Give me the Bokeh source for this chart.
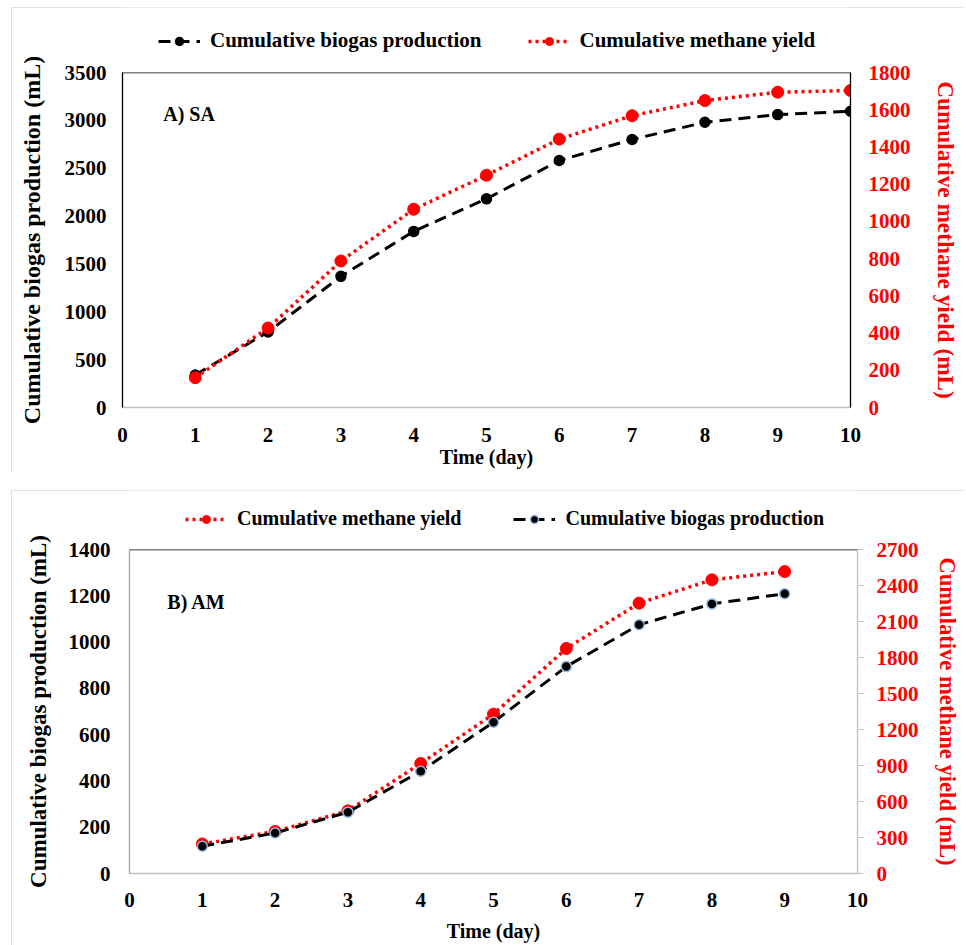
from bokeh.plotting import figure
from bokeh.models import Range1d, LinearAxis, Legend, LegendItem, Label, Span
from bokeh.layouts import column
from bokeh.embed import file_html
from bokeh.resources import INLINE

# ---- data -------------------------------------------------------------
days_sa = [1, 2, 3, 4, 5, 6, 7, 8, 9, 10]
biogas_sa = [340, 790, 1370, 1840, 2180, 2580, 2800, 2980, 3060, 3095]
methane_sa = [160, 427, 787, 1065, 1248, 1442, 1568, 1649, 1694, 1703]

days_am = [1, 2, 3, 4, 5, 6, 7, 8, 9]
biogas_am = [118, 175, 265, 442, 654, 894, 1075, 1165, 1209]
methane_am = [246, 350, 522, 917, 1328, 1875, 2253, 2447, 2516]

x_ticks = [0, 1, 2, 3, 4, 5, 6, 7, 8, 9, 10]
sa_left_ticks = [0, 500, 1000, 1500, 2000, 2500, 3000, 3500]
sa_right_ticks = [0, 200, 400, 600, 800, 1000, 1200, 1400, 1600, 1800]
am_left_ticks = [0, 200, 400, 600, 800, 1000, 1200, 1400]
am_right_ticks = [0, 300, 600, 900, 1200, 1500, 1800, 2100, 2400, 2700]

LBL_BIOGAS = "Cumulative biogas production"
LBL_METHANE = "Cumulative methane yield"
Y_LEFT_TITLE = "Cumulative biogas production (mL)"
Y_RIGHT_TITLE = "Cumulative methane yield (mL)"
X_TITLE = "Time (day)"

FONT = "Liberation Serif"
RED = "#ff0000"
WIDTH = 952
# thin light frame around each panel; an outline takes no layout space
PANEL_FRAME = {"outline": "1px solid #d6d6d6", "outline-offset": "-1px"}

BIOGAS_LINE = dict(line_color="black", line_width=3, line_dash="12 7")
METHANE_LINE = dict(line_color=RED, line_width=3.5, line_dash="3 4")


def style_axis(ax, color, line_color, ticks, standoff, title, title_size,
               title_standoff, tick_out=0):
    ax.ticker = ticks
    ax.major_label_text_font = FONT
    ax.major_label_text_font_style = "bold"
    ax.major_label_text_font_size = "21px"
    ax.major_label_text_color = color
    ax.major_label_standoff = standoff
    ax.axis_line_color = line_color
    ax.axis_line_width = 1.3
    ax.major_tick_in = 0
    ax.major_tick_out = tick_out
    ax.major_tick_line_color = line_color
    ax.minor_tick_line_color = None
    ax.axis_label = title
    ax.axis_label_text_font = FONT
    ax.axis_label_text_font_style = "bold"
    ax.axis_label_text_font_size = title_size
    ax.axis_label_text_color = color
    ax.axis_label_standoff = title_standoff


def make_chart(height, borders, left_max, right_max, left_ticks, right_ticks,
               frame_colors, right_tick_out, standoffs, title_sizes):
    top, right, bottom, left = borders
    (x_so, x_tso), (l_so, l_tso), (r_so, r_tso) = standoffs
    l_size, r_size = title_sizes
    p = figure(width=WIDTH, height=height, output_backend="svg", toolbar_location=None,
               x_range=Range1d(0, 10), y_range=Range1d(0, left_max),
               min_border_top=top, min_border_right=right,
               min_border_bottom=bottom, min_border_left=left)
    p.extra_y_ranges = {"ch4": Range1d(0, right_max)}
    p.xgrid.visible = False
    p.ygrid.visible = False
    p.outline_line_color = None
    p.background_fill_color = "white"
    p.border_fill_color = "white"

    left_col, right_col, bottom_col = frame_colors
    style_axis(p.xaxis[0], "black", bottom_col, x_ticks, x_so, X_TITLE, "20px", x_tso)
    style_axis(p.yaxis[0], "black", left_col, left_ticks, l_so, Y_LEFT_TITLE, l_size, l_tso)
    rax = LinearAxis(y_range_name="ch4")
    style_axis(rax, RED, right_col, right_ticks, r_so, Y_RIGHT_TITLE, r_size, r_tso,
               tick_out=right_tick_out)
    p.add_layout(rax, "right")

    p.add_layout(Span(location=left_max, dimension="width", line_color="black",
                      line_width=1.5))
    return p


def biogas_series(p, days, vals, marker_edge, **kw):
    ln = p.line(days, vals, **BIOGAS_LINE, **kw)
    mk = p.scatter(days, vals, size=10, fill_color="black", line_color=marker_edge,
                   line_width=1.5, **kw)
    return [ln, mk]


def methane_series(p, days, vals, **kw):
    ln = p.line(days, vals, **METHANE_LINE, **kw)
    mk = p.scatter(days, vals, size=12, fill_color=RED, line_color=RED, **kw)
    return [ln, mk]


def legend_strip(height, loc, font_size, spacing):
    """Band above a chart that holds its one-row legend.

    Its y range lies below zero, so the series drawn into it only lend
    their styles to the legend entries.
    """
    s = figure(width=WIDTH, height=height, output_backend="svg", toolbar_location=None,
               x_range=Range1d(0, 10), y_range=Range1d(-2, -1),
               x_axis_type=None, y_axis_type=None, min_border=0)
    s.xgrid.visible = False
    s.ygrid.visible = False
    s.outline_line_color = None
    s.background_fill_color = "white"
    s.border_fill_color = "white"
    lg = Legend(orientation="horizontal", location=loc,
                label_text_font=FONT, label_text_font_style="bold",
                label_text_font_size=font_size, label_text_color="black",
                glyph_width=42, glyph_height=20,
                label_standoff=10, spacing=spacing, padding=2, margin=0,
                border_line_color=None, background_fill_alpha=0)
    s.add_layout(lg, "center")
    return s, lg


def panel_tag(p, x, y, text):
    p.add_layout(Label(x=x, y=y, text=text, text_font=FONT, text_font_style="bold",
                       text_font_size="20px", text_color="black",
                       text_baseline="middle"))


# ---- A) SA ------------------------------------------------------------
strip1, leg1 = legend_strip(50, (36, 4), "21px", 46)
leg1.items = [
    LegendItem(label=LBL_BIOGAS,
               renderers=biogas_series(strip1, days_sa, biogas_sa, "black")),
    LegendItem(label=LBL_METHANE,
               renderers=methane_series(strip1, days_sa, methane_sa)),
]
p1 = make_chart(416, (15, 113, 66, 111), 3500, 1800, sa_left_ticks, sa_right_ticks,
                ("black", "black", "#bfbfbf"), 0,
                ((20, 1), (16, 17), (18, 19)), ("24px", "23.3px"))
biogas_series(p1, days_sa, biogas_sa, "black")
methane_series(p1, days_sa, methane_sa, y_range_name="ch4")
panel_tag(p1, 0.56, 3070, "A) SA")
panel_a = column(strip1, p1, styles=PANEL_FRAME, margin=(7, 0, 0, 11))

# ---- B) AM ------------------------------------------------------------
strip2, leg2 = legend_strip(40, (56, 0), "20px", 52)
leg2.items = [
    LegendItem(label=LBL_METHANE,
               renderers=methane_series(strip2, days_am, methane_am)),
    LegendItem(label=LBL_BIOGAS,
               renderers=biogas_series(strip2, days_am, biogas_am, "#8fb8e0")),
]
p2 = make_chart(415, (19, 106, 72, 118), 1400, 2700, am_left_ticks, am_right_ticks,
                ("#a6a6a6", "#bfbfbf", "#bfbfbf"), 6,
                ((19, 10), (19, 15), (13, 13)), ("23px", "22.6px"))
methane_series(p2, days_am, methane_am, y_range_name="ch4")
biogas_series(p2, days_am, biogas_am, "#8fb8e0")
panel_tag(p2, 0.52, 1171, "B) AM")
panel_b = column(strip2, p2, styles=PANEL_FRAME, margin=(17, 0, 0, 11))

layout = column(panel_a, panel_b)
open("out.html", "w").write(file_html(layout, INLINE))
